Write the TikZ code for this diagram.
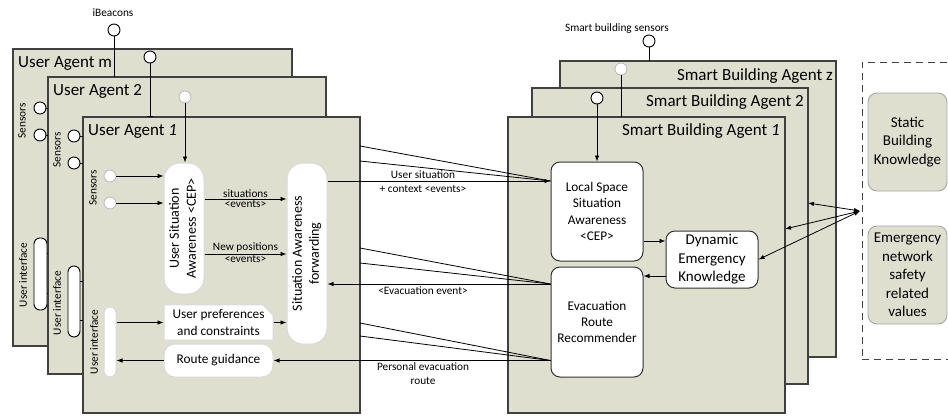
\documentclass[tikz,border=0pt]{standalone}
\usepackage{fontspec}
\setmainfont{Carlito}
\usepackage{tikz}
\usetikzlibrary{shapes.geometric, shapes.misc, arrows, arrows.meta, positioning}

\definecolor{agentfill}{RGB}{222,223,207}
\newcommand*{\VText}[1]{\rotatebox{90}{\begin{tabular}{@{}c@{}}#1\end{tabular}}}

\begin{document}
\begin{tikzpicture}[x=1pt,y=-1pt]
	\tikzset{AgentStyle/.style = {draw=black!75, line width=1.2pt, fill=agentfill, anchor=north west, inner sep=0pt, outer sep=0pt}}
	\tikzset{BoxStyle/.style = {draw=black!80, line width=1pt, fill=white, rounded corners=9pt, align=center, inner sep=1pt, font=\fontsize{13.3}{16.2}\selectfont}}
	\tikzset{BigFont/.style = {font=\fontsize{15}{18.5}\selectfont}}
	\tikzset{SoftBox/.style = {BoxStyle, draw=black!15, inner sep=0pt}}
	\tikzset{CapStyle/.style = {draw=black, line width=0.9pt, fill=white, rounded corners=6pt, inner sep=0pt}}
	\tikzset{PortStyle/.style = {circle, draw=black, line width=0.9pt, fill=white, minimum size=12pt, inner sep=0pt}}
	\tikzset{SoftPort/.style = {PortStyle, draw=black!25}}
	\tikzset{EdgeStyle/.style = {draw=black, line width=0.8pt}}
	\tikzset{ArrowStyle/.style = {EdgeStyle, -{Latex[length=6pt, width=4.5pt]}}}
	\tikzset{TwoWayStyle/.style = {EdgeStyle, {Latex[length=6pt, width=4.5pt]}-{Latex[length=6pt, width=4.5pt]}}}
	\tikzset{TitleStyle/.style = {inner sep=0pt, font=\fontsize{17}{20}\selectfont}}
	\tikzset{LabelStyle/.style = {inner sep=1pt, align=center, font=\fontsize{11.3}{14}\selectfont}}
	\tikzset{KnowStyle/.style = {BoxStyle, BigFont, fill=agentfill, draw=black!35, line width=0.9pt, minimum width=79, minimum height=98}}

	\useasboundingbox (0,0) rectangle (948,416);
	\clip (0,0) rectangle (948,416);

	% user agent m
	\node[AgentStyle, minimum width=279, minimum height=297] (UAm) at (13,49) {};
	\node[TitleStyle, anchor=west] (UAmT) at (18,64) {User Agent m};
	\node[LabelStyle, rotate=90] (UAmS) at (22,121) {Sensors};
	\node[PortStyle] (Pm1) at (40,108) {};
	\node[PortStyle] (Pm2) at (40,135) {};
	\node[LabelStyle, rotate=90] (UAmL) at (23,275) {User interface};
	\node[CapStyle, minimum width=13, minimum height=72] (UIm) at (40.5,274) {};
	\node[LabelStyle] (B1T) at (113,13) {iBeacons};
	\node[PortStyle] (B1) at (114,30) {};
	\node[PortStyle] (B2) at (150,57) {};

	% user agent 2
	\node[AgentStyle, minimum width=278, minimum height=297] (UA2) at (48,77) {};
	\draw[EdgeStyle] (B1) -- (B1 |- UA2.north);
	\draw[EdgeStyle] (Pm1) -- (Pm1 -| UA2.west);
	\draw[EdgeStyle] (Pm2) -- (Pm2 -| UA2.west);
	\draw[EdgeStyle] (UIm.east |- 0,253) -- (UA2.west |- 0,253);
	\draw[EdgeStyle] (UIm.east |- 0,293) -- (UA2.west |- 0,293);
	\node[TitleStyle, anchor=west] (UA2T) at (53,91) {User Agent 2};
	\node[LabelStyle, rotate=90] (UA2S) at (57,150) {Sensors};
	\node[PortStyle] (P21) at (74,136) {};
	\node[PortStyle] (P22) at (74,163) {};
	\node[LabelStyle, rotate=90] (UA2L) at (57,303) {User interface};
	\node[CapStyle, minimum width=12, minimum height=71] (UI2) at (74,301.5) {};
	\node[SoftPort] (B3) at (185,97) {};

	% user agent 1
	\node[AgentStyle, minimum width=277, minimum height=296] (UA1) at (83,117) {};
	\draw[EdgeStyle, -{Bar[width=6pt]}] (B2) -- (B2 |- UA1.north);
	\draw[EdgeStyle] (P21) -- (P21 -| UA1.west);
	\draw[EdgeStyle] (P22) -- (P22 -| UA1.west);
	\draw[EdgeStyle] (UI2.east |- 0,281) -- (UA1.west |- 0,281);
	\draw[EdgeStyle] (UI2.east |- 0,320) -- (UA1.west |- 0,320);
	\node[TitleStyle, anchor=west] (UA1T) at (88,131) {User Agent \textit{1}};
	\node[LabelStyle, rotate=90] (UA1S) at (93,188) {Sensors};
	\node[SoftPort] (P11) at (110,176) {};
	\node[SoftPort] (P12) at (110,203) {};
	\node[LabelStyle, rotate=90] (UA1L) at (94,342) {User interface};
	\node[SoftBox, rounded corners=6pt, minimum width=12, minimum height=70] (UI1) at (110,342) {};

	\node[SoftBox, rounded corners=16pt, minimum width=40, minimum height=131, font=\fontsize{14}{17}\selectfont] (USA) at (184,228.5) {\VText{User Situation\\Awareness <CEP>}};
	\node[SoftBox, rounded corners=16pt, minimum width=40, minimum height=181, font=\fontsize{14}{17}\selectfont] (SAF) at (307,253.5) {\VText{Situation Awareness\\forwarding}};
	\node[SoftBox, sharp corners, chamfered rectangle, chamfered rectangle corners=north east, chamfered rectangle xsep=5pt, chamfered rectangle ysep=5pt, minimum width=109, minimum height=33] (UP) at (218.5,322.5) {User preferences\\and constraints};
	\node[SoftBox, rounded corners=11pt, minimum width=109, minimum height=33] (RG) at (218.5,360.5) {Route guidance};

	%%%%%%%%%%%%%%%%%%%%%%%%%%%%%%

	\draw[ArrowStyle] (B3) -- (B3 |- USA.north);
	\draw[ArrowStyle] (P11) -- (P11 -| USA.west);
	\draw[ArrowStyle] (P12) -- (P12 -| USA.west);
	\draw[ArrowStyle] (USA.east |- 0,199) -- (SAF.west |- 0,199)
		node[LabelStyle, midway, above] (Lsit) {situations}
		node[LabelStyle, midway, below] (Lsitev) {<events>};
	\draw[ArrowStyle] (USA.east |- 0,254) -- (SAF.west |- 0,254)
		node[LabelStyle, midway, above] (Lpos) {New positions}
		node[LabelStyle, midway, below] (Lposev) {<events>};
	\draw[ArrowStyle] (UI1.east |- UP.west) -- (UP.west);
	\draw[ArrowStyle] (UP.east) -- (UP.east -| SAF.west);
	\draw[ArrowStyle] (RG.west) -- (RG.west -| UI1.east);

	% smart building agents
	\node[AgentStyle, minimum width=276, minimum height=296] (SBz) at (560,61) {};
	\node[TitleStyle, anchor=east] (SBzT) at (833,76) {Smart Building Agent z};
	\node[LabelStyle] (SP1T) at (617,29) {Smart building sensors};
	\node[PortStyle] (SP1) at (649,41) {};
	\draw[EdgeStyle] (SP1) -- (SP1 |- SBz.north);
	\node[SoftPort] (SP2) at (621,69) {};
	\node[AgentStyle, minimum width=276, minimum height=296] (SB2) at (532,88) {};
	\node[TitleStyle, anchor=east] (SB2T) at (804,102) {Smart Building Agent 2};
	\node[PortStyle] (SP3) at (597,98) {};
	\node[AgentStyle, minimum width=277, minimum height=296] (SB1) at (508,117) {};
	\draw[EdgeStyle] (SP2) -- (SP2 |- SB1.north);
	\node[TitleStyle, anchor=east] (SB1T) at (780,131) {Smart Building Agent \textit{1}};

	\node[BoxStyle, minimum width=92, minimum height=99] (LSSA) at (597,211.5) {Local Space\\Situation\\Awareness\\<CEP>};
	\node[BoxStyle, minimum width=92, minimum height=110] (ERR) at (597,322) {Evacuation\\Route\\Recommender};
	\node[BoxStyle, BigFont, minimum width=92, minimum height=57] (DEK) at (712,259.5) {Dynamic\\Emergency\\Knowledge};

	% knowledge bases
	\node[draw=black!75, line width=0.9pt, dash pattern=on 7pt off 5pt, anchor=north west, inner sep=0pt, minimum width=140, minimum height=297] (KB) at (862,62) {};
	\node[KnowStyle] (SBK) at (907.5,142) {Static\\Building\\Knowledge};
	\node[KnowStyle] (ENV) at (907.5,275) {Emergency\\network\\safety\\related\\values};
	\coordinate (KBin) at (860,211);

	%%%%%%%%%%%%%%%%%%%%%%%%%%%%%%

	\coordinate (USin) at (LSSA.west |- 0,181);
	\coordinate (EVout) at (ERR.west |- 0,284);
	\coordinate (PRout) at (ERR.west |- RG.east);

	\draw[ArrowStyle] (SP3) -- (SP3 |- LSSA.north);
	\draw[ArrowStyle] (SAF.east |- USin) -- (USin);
	\draw[EdgeStyle] (UA1.east |- 0,146) -- (USin);
	\draw[EdgeStyle] (UA1.east |- 0,161) -- (USin);
	\node[LabelStyle] (Lus) at (423,182) {User situation\\+ context <events>};

	\draw[ArrowStyle] (EVout) -- (EVout -| SAF.east);
	\draw[EdgeStyle] (UA1.east |- 0,248) -- (EVout);
	\draw[EdgeStyle] (UA1.east |- 0,263) -- (EVout);
	\node[LabelStyle] (Lev) at (423,291) {<Evacuation event>};

	\draw[ArrowStyle] (PRout) -- (RG.east);
	\draw[EdgeStyle] (UA1.east |- 0,323) -- (PRout);
	\draw[EdgeStyle] (UA1.east |- 0,336) -- (PRout);
	\node[LabelStyle] (Lpr) at (423,374) {Personal evacuation\\route};

	\draw[ArrowStyle] (LSSA.east |- 0,241) -- (DEK.west |- 0,241);
	\draw[ArrowStyle] (DEK.west |- 0,276) -- (ERR.east |- 0,276);

	\draw[TwoWayStyle] (SB2.east |- 0,203) -- (KBin);
	\draw[TwoWayStyle] (SB1.east |- 0,229) -- (KBin);
	\draw[TwoWayStyle] (DEK.east) -- (KBin);
\end{tikzpicture}
\end{document}
